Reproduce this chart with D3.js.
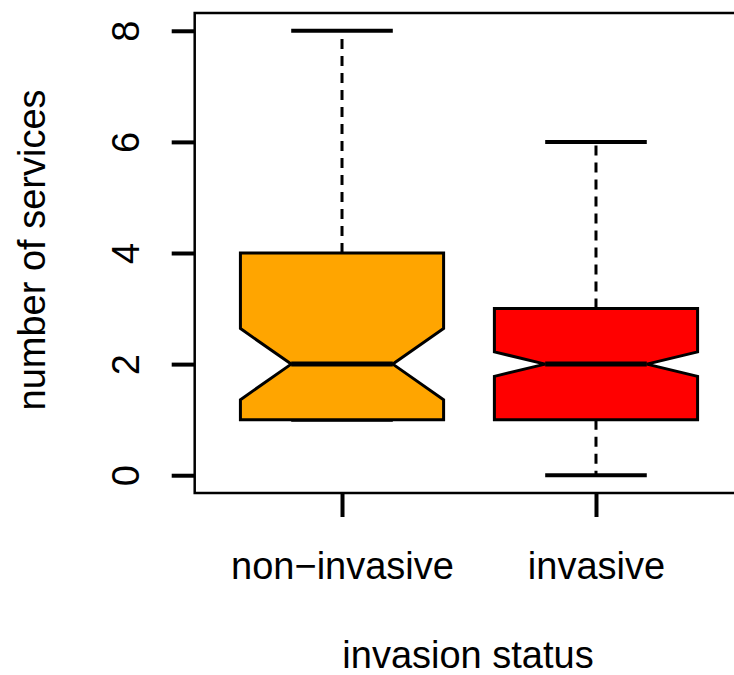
<!DOCTYPE html>
<html>
<head>
<meta charset="utf-8">
<script src="https://cdn.jsdelivr.net/npm/d3@7"></script>
<style>
  body { margin: 0; background: #fff; }
  text { font-family: "Liberation Sans", Arial, Helvetica, sans-serif; fill: #000; }
</style>
</head>
<body>
<svg id="chart" width="734" height="675"></svg>
<script>
// box statistics
const groups = ["non\u2212invasive", "invasive"];
const colors = ["#ffa500", "#ff0000"];
const whiskerLow = [1, 0];
const q1 = [1, 1];
const median = [2, 2];
const q3 = [4, 3];
const whiskerHigh = [8, 6];
const notchLow = [1.36, 1.78];
const notchHigh = [2.64, 2.22];
const yTicks = [0, 2, 4, 6, 8];

const svg = d3.select("#chart");
const fontSize = 38;

// R style: limits padded by 4%
let x = d3.scaleLinear().domain([0.42, 2.58]).range([194.7, 743.3]);
let y = d3.scaleLinear().domain([-0.32, 8.32]).range([493, 13]);

let data = groups.map((g, i) => ({
  pos: i + 1, name: g, color: colors[i],
  lo: whiskerLow[i], q1: q1[i], med: median[i], q3: q3[i], hi: whiskerHigh[i],
  nlo: notchLow[i], nhi: notchHigh[i]
}));

let boxHalf = 0.4, notchHalf = 0.2, capHalf = 0.2;

let boxes = svg.append("g").selectAll("g").data(data).enter().append("g");

// dashed whiskers
boxes.append("line")
  .attr("x1", d => x(d.pos)).attr("x2", d => x(d.pos))
  .attr("y1", d => y(d.q3)).attr("y2", d => y(d.hi))
  .attr("stroke", "#000").attr("stroke-width", 3).attr("stroke-dasharray", "10,7");
boxes.append("line")
  .attr("x1", d => x(d.pos)).attr("x2", d => x(d.pos))
  .attr("y1", d => y(d.q1)).attr("y2", d => y(d.lo))
  .attr("stroke", "#000").attr("stroke-width", 3).attr("stroke-dasharray", "10,7");

// caps
["hi", "lo"].forEach(k => {
  boxes.append("line")
    .attr("x1", d => x(d.pos - capHalf)).attr("x2", d => x(d.pos + capHalf))
    .attr("y1", d => y(d[k])).attr("y2", d => y(d[k]))
    .attr("stroke", "#000").attr("stroke-width", 4);
});

// notched box
boxes.append("path")
  .attr("d", d => {
    let l = x(d.pos - boxHalf), r = x(d.pos + boxHalf);
    let nl = x(d.pos - notchHalf), nr = x(d.pos + notchHalf);
    let pts = [
      [l, y(d.q1)], [l, y(d.nlo)], [nl, y(d.med)], [l, y(d.nhi)], [l, y(d.q3)],
      [r, y(d.q3)], [r, y(d.nhi)], [nr, y(d.med)], [r, y(d.nlo)], [r, y(d.q1)]
    ];
    return d3.line()(pts) + "Z";
  })
  .attr("fill", d => d.color)
  .attr("stroke", "#000").attr("stroke-width", 3).attr("stroke-linejoin", "miter");

// median
boxes.append("line")
  .attr("x1", d => x(d.pos - notchHalf)).attr("x2", d => x(d.pos + notchHalf))
  .attr("y1", d => y(d.med)).attr("y2", d => y(d.med))
  .attr("stroke", "#000").attr("stroke-width", 5);

// plot frame (right side runs off the page)
svg.append("rect")
  .attr("x", x.range()[0]).attr("y", y.range()[1])
  .attr("width", x.range()[1] - x.range()[0])
  .attr("height", y.range()[0] - y.range()[1])
  .attr("fill", "none").attr("stroke", "#000").attr("stroke-width", 2.5);

// y axis
let yAxis = svg.append("g")
  .attr("transform", "translate(" + x.range()[0] + ",0)")
  .call(d3.axisLeft(y).tickValues(yTicks).tickSize(23).tickSizeOuter(0));
yAxis.select(".domain").remove();
yAxis.selectAll(".tick line").attr("stroke", "#000").attr("stroke-width", 4);
yAxis.selectAll(".tick text")
  .attr("x", null).attr("dy", null)
  .attr("transform", "translate(-56,0) rotate(-90)")
  .attr("text-anchor", "middle")
  .style("font-size", fontSize + "px")
  .style("font-family", "'Liberation Sans', Arial, sans-serif");

// x axis
let xAxis = svg.append("g")
  .attr("transform", "translate(0," + y.range()[0] + ")")
  .call(d3.axisBottom(x).tickValues([1, 2]).tickFormat(d => groups[d - 1]).tickSize(24).tickSizeOuter(0));
xAxis.select(".domain").remove();
xAxis.selectAll(".tick line").attr("stroke", "#000").attr("stroke-width", 4);
xAxis.selectAll(".tick text")
  .attr("y", 86).attr("dy", null)
  .attr("text-anchor", "middle")
  .style("font-size", fontSize + "px")
  .style("font-family", "'Liberation Sans', Arial, sans-serif");

// axis titles
svg.append("text")
  .attr("transform", "translate(45,250) rotate(-90)")
  .attr("text-anchor", "middle")
  .style("font-size", fontSize + "px")
  .text("number of services");

svg.append("text")
  .attr("x", 468).attr("y", 668)
  .attr("text-anchor", "middle")
  .style("font-size", fontSize + "px")
  .text("invasion status");
</script>
</body>
</html>
